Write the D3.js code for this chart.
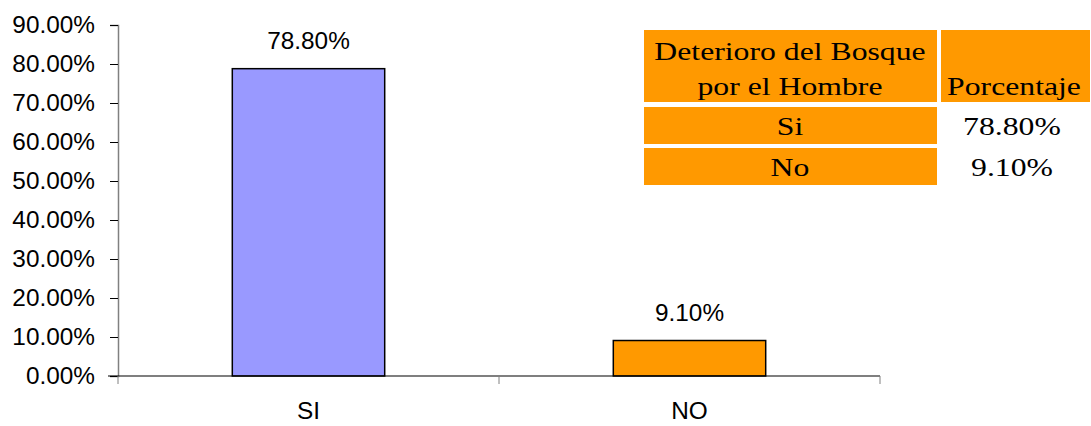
<!DOCTYPE html>
<html>
<head>
<meta charset="utf-8">
<script src="https://cdn.jsdelivr.net/npm/d3@7"></script>
<style>
  body { margin: 0; background: #fff; }
  text { font-family: "Liberation Sans", Arial, sans-serif; }
  text.tbl { font-family: "Liberation Serif", "Times New Roman", serif; }
</style>
</head>
<body>
<svg id="chart"></svg>
<script>
const categories = ["SI", "NO"];
const values = [0.788, 0.091];
const barColors = ["#9999FF", "#FF9900"];
const yTicks = [0, 0.1, 0.2, 0.3, 0.4, 0.5, 0.6, 0.7, 0.8, 0.9];

const tableHeader = ["Deterioro del Bosque", "por el Hombre"];
const tableValueHeader = "Porcentaje";
const tableRows = ["Si", "No"];
const tableValues = ["78.80%", "9.10%"];

let width = 1091;
let height = 426;
let plot = { left: 118, right: 880, top: 25, bottom: 376 };
const sansFont = "'Liberation Sans', Arial, sans-serif";
const sansSize = 23;
const sansStretch = 1.06;

let svg = d3.select("#chart")
    .attr("width", width)
    .attr("height", height);

let xScale = d3.scaleBand()
    .domain(categories)
    .range([plot.left, plot.right])
    .paddingInner(0.6)
    .paddingOuter(0.3);

let yScale = d3.scaleLinear()
    .domain([0, 0.9])
    .range([plot.bottom, plot.top]);

// y axis
let yAxis = d3.axisLeft(yScale)
    .tickValues(yTicks)
    .tickSize(8)
    .tickPadding(15)
    .tickFormat(d3.format(".2%"));

let gy = svg.append("g")
    .attr("transform", `translate(${plot.left},0)`)
    .call(yAxis)
    .attr("font-size", sansSize)
    .attr("font-family", sansFont);
gy.select(".domain").attr("stroke", "#808080").attr("stroke-width", 1.5);
gy.selectAll(".tick line").attr("stroke", "#000");
gy.selectAll(".tick text")
    .attr("fill", "#000")
    .attr("x", -23 / sansStretch)
    .attr("transform", `scale(${sansStretch},1)`);

// bars
svg.selectAll(".bar")
    .data(values)
    .enter()
    .append("rect")
    .attr("class", "bar")
    .attr("x", (d, i) => xScale(categories[i]))
    .attr("y", d => yScale(d))
    .attr("width", xScale.bandwidth())
    .attr("height", d => plot.bottom - yScale(d))
    .attr("fill", (d, i) => barColors[i])
    .attr("stroke", "#000")
    .attr("stroke-width", 1.5);

// value labels
svg.selectAll(".lbl")
    .data(values)
    .enter()
    .append("text")
    .attr("class", "lbl")
    .attr("transform", (d, i) => `translate(${xScale(categories[i]) + xScale.bandwidth() / 2},${yScale(d) - 20}) scale(${sansStretch},1)`)
    .attr("text-anchor", "middle")
    .attr("font-size", sansSize)
    .text(d => d3.format(".2%")(d));

// x axis
let xEdges = [plot.left].concat(categories.map((c, i) => plot.left + (i + 1) * (plot.right - plot.left) / categories.length));
svg.append("line")
    .attr("x1", plot.left - 10).attr("x2", plot.right)
    .attr("y1", plot.bottom).attr("y2", plot.bottom)
    .attr("stroke", "#000").attr("stroke-width", 1.2);
svg.selectAll(".xtick")
    .data(xEdges)
    .enter()
    .append("line")
    .attr("x1", d => d).attr("x2", d => d)
    .attr("y1", plot.bottom).attr("y2", plot.bottom + 8)
    .attr("stroke", "#808080");
svg.selectAll(".xlbl")
    .data(categories)
    .enter()
    .append("text")
    .attr("transform", d => `translate(${xScale(d) + xScale.bandwidth() / 2},419) scale(${sansStretch},1)`)
    .attr("text-anchor", "middle")
    .attr("font-size", sansSize)
    .text(d => d);

// table
let tbl = svg.append("g");
const orange = "#FF9900";
const stretch = 1.22;
let tblText = (sel, cx, y) => sel
    .attr("class", "tbl")
    .attr("text-anchor", "middle")
    .attr("font-size", 26)
    .attr("transform", (d, i) => `translate(${cx},${typeof y === "function" ? y(d, i) : y}) scale(${stretch},1)`);

tbl.append("rect").attr("x", 644).attr("y", 30).attr("width", 293).attr("height", 72).attr("fill", orange);
tbl.append("rect").attr("x", 941).attr("y", 30).attr("width", 149).attr("height", 72).attr("fill", orange);
tbl.selectAll(".hdr")
    .data(tableHeader)
    .enter()
    .append("text")
    .call(tblText, 790, (d, i) => 60 + i * 35)
    .text(d => d);
tbl.append("text")
    .datum(tableValueHeader)
    .call(tblText, 1014, 95)
    .text(d => d);

const rowTop = [107, 148];
tbl.selectAll(".rowbg")
    .data(tableRows)
    .enter()
    .append("rect")
    .attr("x", 644)
    .attr("y", (d, i) => rowTop[i])
    .attr("width", 293)
    .attr("height", 37)
    .attr("fill", orange);
tbl.selectAll(".rowlbl")
    .data(tableRows)
    .enter()
    .append("text")
    .call(tblText, 790, (d, i) => rowTop[i] + 28)
    .text(d => d);
tbl.selectAll(".rowval")
    .data(tableValues)
    .enter()
    .append("text")
    .call(tblText, 1012, (d, i) => rowTop[i] + 28)
    .text(d => d);
</script>
</body>
</html>
